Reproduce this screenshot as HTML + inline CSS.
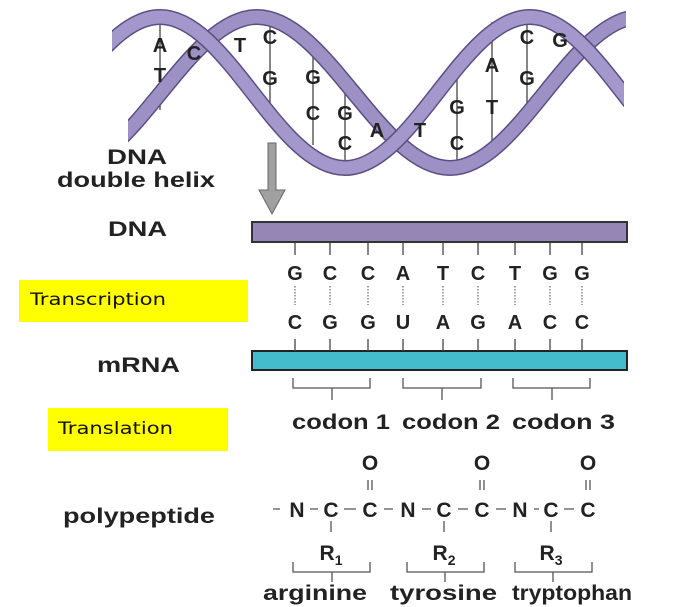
<!DOCTYPE html>
<html><head><meta charset="utf-8"><style>
html,body{margin:0;padding:0;background:#fff}
svg{display:block}
text{font-family:"Liberation Sans",Arial,sans-serif;font-weight:bold;fill:#222}
.b{font-size:20px}
.c{font-family:"DejaVu Sans","Liberation Sans",sans-serif;font-weight:normal;font-size:17px;fill:#111}
</style></head><body>
<svg width="692" height="607" viewBox="0 0 692 607" xmlns="http://www.w3.org/2000/svg">
<defs>
<clipPath id="clA"><rect x="112" y="0" width="512" height="200"/></clipPath>
<clipPath id="clB"><rect x="128" y="0" width="498" height="200"/></clipPath>
</defs>
<rect width="692" height="607" fill="#fff"/>
<g stroke="#444" stroke-width="1.3">
<line x1="160" y1="12" x2="160" y2="110"/>
<line x1="270" y1="12" x2="270" y2="105"/>
<line x1="313" y1="50" x2="313" y2="145"/>
<line x1="345" y1="90" x2="345" y2="172"/>
<line x1="457" y1="70" x2="457" y2="172"/>
<line x1="492" y1="22" x2="492" y2="140"/>
<line x1="527" y1="12" x2="527" y2="110"/>
</g>
<g fill="none" stroke-linecap="butt">
<g clip-path="url(#clB)">
<path d="M 65,168 C 134,168 188,17 257,17 C 326,17 381,168 450,168 C 518,168 572,17 640,17" stroke="#5b4f82" stroke-width="16"/>
<path d="M 65,168 C 134,168 188,17 257,17 C 326,17 381,168 450,168 C 518,168 572,17 640,17" stroke="#9d90c4" stroke-width="13"/>
</g>
<g clip-path="url(#clA)">
<path d="M -25,168 C 42,168 93,17 160,17 C 227,17 278,168 345,168 C 412,168 463,17 530,17 C 597,17 648,168 715,168" stroke="#5b4f82" stroke-width="16"/>
<path d="M -25,168 C 42,168 93,17 160,17 C 227,17 278,168 345,168 C 412,168 463,17 530,17 C 597,17 648,168 715,168" stroke="#a497cb" stroke-width="13"/>
</g>
</g>
<g class="b" text-anchor="middle">
<text x="160" y="52">A</text><text x="160" y="82">T</text>
<text x="194" y="60">C</text><text x="240" y="52">T</text>
<text x="270" y="44">C</text><text x="270" y="85">G</text>
<text x="313" y="84">G</text><text x="313" y="120">C</text>
<text x="345" y="120">G</text><text x="345" y="150">C</text>
<text x="377" y="137">A</text><text x="420" y="137">T</text>
<text x="457" y="114">G</text><text x="457" y="150">C</text>
<text x="492" y="72">A</text><text x="492" y="114">T</text>
<text x="527" y="44">C</text><text x="527" y="85">G</text>
<text x="560" y="47">G</text>
</g>
<path d="M268,143 L276,143 L276,190 L285,190 L272,214 L259,190 L268,190 Z" fill="#a0a0a0" stroke="#666" stroke-width="1"/>
<g font-size="21">
<text x="107" y="164" textLength="60" lengthAdjust="spacingAndGlyphs">DNA</text>
<text x="57" y="187" textLength="158" lengthAdjust="spacingAndGlyphs">double helix</text>
<text x="108" y="236" textLength="59" lengthAdjust="spacingAndGlyphs">DNA</text>
<text x="97" y="372" textLength="83" lengthAdjust="spacingAndGlyphs">mRNA</text>
<text x="63" y="523" textLength="152" lengthAdjust="spacingAndGlyphs">polypeptide</text>
</g>
<rect x="19" y="280" width="229" height="42" fill="#ffff00"/>
<text class="c" x="30" y="305" textLength="136" lengthAdjust="spacingAndGlyphs">Transcription</text>
<rect x="48" y="408" width="180" height="43" fill="#ffff00"/>
<text class="c" x="58" y="434" textLength="115" lengthAdjust="spacingAndGlyphs">Translation</text>
<rect x="252" y="222" width="375" height="20" fill="#9586b6" stroke="#333" stroke-width="2"/>
<rect x="252" y="351" width="375" height="19" fill="#45bccc" stroke="#222" stroke-width="2"/>
<g stroke="#444" stroke-width="1.3">
<line x1="295" y1="243" x2="295" y2="255"/><line x1="330" y1="243" x2="330" y2="255"/><line x1="368" y1="243" x2="368" y2="255"/>
<line x1="403" y1="243" x2="403" y2="255"/><line x1="443" y1="243" x2="443" y2="255"/><line x1="478" y1="243" x2="478" y2="255"/>
<line x1="515" y1="243" x2="515" y2="255"/><line x1="550" y1="243" x2="550" y2="255"/><line x1="582" y1="243" x2="582" y2="255"/>
<g transform="translate(0,96)">
<line x1="295" y1="243" x2="295" y2="255"/><line x1="330" y1="243" x2="330" y2="255"/><line x1="368" y1="243" x2="368" y2="255"/>
<line x1="403" y1="243" x2="403" y2="255"/><line x1="443" y1="243" x2="443" y2="255"/><line x1="478" y1="243" x2="478" y2="255"/>
<line x1="515" y1="243" x2="515" y2="255"/><line x1="550" y1="243" x2="550" y2="255"/><line x1="582" y1="243" x2="582" y2="255"/>
</g>
</g>
<g stroke="#666" stroke-width="1.2" stroke-dasharray="1.5,1.5">
<line x1="295" y1="286" x2="295" y2="305"/><line x1="330" y1="286" x2="330" y2="305"/><line x1="368" y1="286" x2="368" y2="305"/>
<line x1="403" y1="286" x2="403" y2="305"/><line x1="443" y1="286" x2="443" y2="305"/><line x1="478" y1="286" x2="478" y2="305"/>
<line x1="515" y1="286" x2="515" y2="305"/><line x1="550" y1="286" x2="550" y2="305"/><line x1="582" y1="286" x2="582" y2="305"/>
</g>
<g class="b" text-anchor="middle" font-size="21">
<text x="295" y="280">G</text><text x="330" y="280">C</text><text x="368" y="280">C</text><text x="403" y="280">A</text><text x="443" y="280">T</text><text x="478" y="280">C</text><text x="515" y="280">T</text><text x="550" y="280">G</text><text x="582" y="280">G</text>
<text x="295" y="329">C</text><text x="330" y="329">G</text><text x="368" y="329">G</text><text x="403" y="329">U</text><text x="443" y="329">A</text><text x="478" y="329">G</text><text x="515" y="329">A</text><text x="550" y="329">C</text><text x="582" y="329">C</text>
</g>
<g fill="none" stroke="#555" stroke-width="1.3">
<path d="M293,378 V388 H370 V378 M332,388 V400"/>
<path d="M403,378 V388 H481 V378 M442,388 V400"/>
<path d="M513,378 V388 H590 V378 M552,388 V400"/>
</g>
<g font-size="21">
<text x="292" y="429" textLength="98" lengthAdjust="spacingAndGlyphs">codon 1</text>
<text x="402" y="429" textLength="98" lengthAdjust="spacingAndGlyphs">codon 2</text>
<text x="512" y="429" textLength="103" lengthAdjust="spacingAndGlyphs">codon 3</text>
</g>
<g font-size="21" text-anchor="middle">
<text x="370" y="470">O</text><text x="482" y="470">O</text><text x="588" y="470">O</text>
<text x="297" y="517">N</text><text x="331" y="517">C</text><text x="370" y="517">C</text>
<text x="408" y="517">N</text><text x="444" y="517">C</text><text x="482" y="517">C</text>
<text x="520" y="517">N</text><text x="551" y="517">C</text><text x="588" y="517">C</text>
<text x="331" y="560">R<tspan font-size="14" dy="5">1</tspan></text>
<text x="444" y="560">R<tspan font-size="14" dy="5">2</tspan></text>
<text x="551" y="560">R<tspan font-size="14" dy="5">3</tspan></text>
</g>
<g stroke="#555" stroke-width="1.3" fill="none">
<path d="M368,480 V490 M372,480 V490 M480,480 V490 M484,480 V490 M586,480 V490 M590,480 V490"/>
<path d="M273,509 H280 M310,509 H318 M344,509 H356 M384,509 H393 M422,509 H431 M458,509 H468 M496,509 H506 M534,509 H539 M564,509 H574"/>
<path d="M331,521 V532 M444,521 V532 M551,521 V532"/>
<path d="M293,562 V572 H370 V562 M332,572 V582"/>
<path d="M407,562 V572 H484 V562 M445,572 V582"/>
<path d="M515,562 V572 H592 V562 M553,572 V582"/>
</g>
<g font-size="21">
<text x="263" y="600" textLength="104" lengthAdjust="spacingAndGlyphs">arginine</text>
<text x="390" y="600" textLength="107" lengthAdjust="spacingAndGlyphs">tyrosine</text>
<text x="512" y="600" textLength="120" lengthAdjust="spacingAndGlyphs">tryptophan</text>
</g>
</svg>
</body></html>
